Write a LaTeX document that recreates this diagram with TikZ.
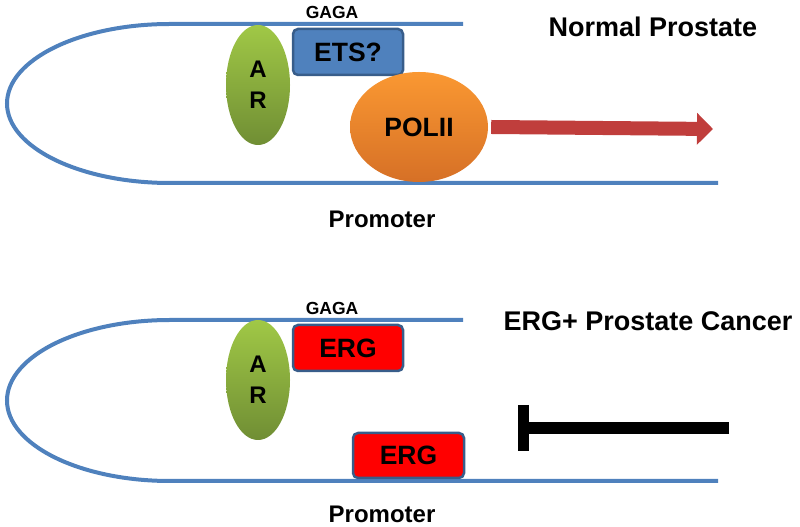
\documentclass[tikz,border=0pt]{standalone}
\usepackage{fontspec}
\setmainfont{Liberation Sans}
\usetikzlibrary{shapes.geometric,arrows.meta}
\definecolor{dnablue}{RGB}{79,129,189}
\definecolor{boxedge}{RGB}{56,93,138}
\definecolor{argreenT}{RGB}{160,200,70}
\definecolor{argreenB}{RGB}{112,142,52}
\definecolor{polT}{RGB}{250,152,50}
\definecolor{polB}{RGB}{214,112,38}
\definecolor{arrowred}{RGB}{192,62,60}
\begin{document}
\begin{tikzpicture}[x=1pt,y=1pt,
    dna/.style={dnablue,line width=4},
    ar/.style={ellipse,minimum width=64,minimum height=120,inner sep=0,
      top color=argreenT,bottom color=argreenB,align=center,
      font=\fontsize{24}{31}\selectfont\bfseries},
    tf/.style={rectangle,rounded corners=5,draw=boxedge,line width=2.5,
      minimum width=110,minimum height=46,inner sep=0,
      font=\fontsize{26.5}{30}\selectfont\bfseries},
    lbl/.style={font=\fontsize{#1}{#1}\selectfont\bfseries,inner sep=0},
    lbl/.default=24]
    \useasboundingbox (0,0) rectangle (800,527);

    % normal prostate
    \draw[dna] (463,503) -- (170,503) arc[start angle=90,end angle=270,x radius=163,y radius=79.5] -- (718,344);
    \node[lbl=17.5] (gaga1) at (332,515) {GAGA};
    \node[lbl=27] (title1) at (653,500) {Normal Prostate};
    \node[lbl] (prom1) at (382,308) {Promoter};
    \node[ar] (ar1) at (258,442) {A\\R};
    \node[tf,fill=dnablue] (ets) at (348,475) {ETS?};
    \node[ellipse,minimum width=138,minimum height=110,inner sep=0,top color=polT,bottom color=polB,
      font=\fontsize{26.5}{30}\selectfont\bfseries] (pol) at (419,400) {POLII};
    \coordinate (tss) at (713,398);
    \draw[arrowred,line width=14,-{Triangle[length=16pt,width=31pt]}] ([xshift=3pt]pol.east) -- (tss);

    % ERG+ cancer
    \draw[dna] (463,207) -- (170,207) arc[start angle=90,end angle=270,x radius=163,y radius=80.5] -- (718,46);
    \node[lbl=17.5] (gaga2) at (332,219) {GAGA};
    \node[lbl=27] (title2) at (648,206) {ERG+ Prostate Cancer};
    \node[lbl] (prom2) at (382,13) {Promoter};
    \node[ar] (ar2) at (258,147) {A\\R};
    \node[tf,fill=red] (erg1) at (348,179) {ERG};
    \node[tf,fill=red,minimum width=111,minimum height=45] (erg2) at (408.5,71.5) {ERG};
    \coordinate (blk) at (729,99);
    \coordinate (stop) at (523,99);
    \draw[line width=12] (blk) -- (stop);
    \draw[line width=11] ([yshift=23pt]stop) -- ([yshift=-23pt]stop);
\end{tikzpicture}
\end{document}
